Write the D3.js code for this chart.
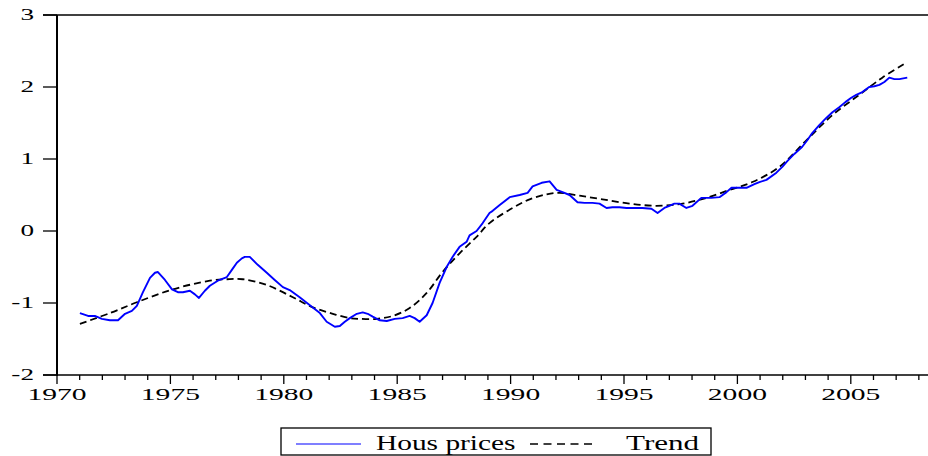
<!DOCTYPE html>
<html>
<head>
<meta charset="utf-8">
<script src="https://cdn.jsdelivr.net/npm/d3@7"></script>
<style>
  body { margin: 0; background: #fff; }
  svg { display: block; }
  text { font-family: "Liberation Serif", "DejaVu Serif", serif; fill: #000; }
</style>
</head>
<body>
<div id="chart"></div>
<script>
// Hous prices
const priceYears = [1971.01,1971.37,1971.67,1971.98,1972.33,1972.69,1973.00,1973.30,1973.52,1973.79,1974.10,1974.32,1974.45,1974.76,1975.07,1975.33,1975.55,1975.86,1976.08,1976.26,1976.52,1976.74,1977.09,1977.49,1977.71,1977.93,1978.15,1978.28,1978.50,1978.85,1979.25,1979.60,1979.96,1980.26,1980.70,1981.15,1981.59,1981.89,1982.25,1982.47,1982.69,1982.91,1983.22,1983.48,1983.70,1983.92,1984.23,1984.54,1984.89,1985.24,1985.55,1985.77,1985.99,1986.30,1986.56,1986.87,1987.18,1987.44,1987.75,1988.06,1988.19,1988.50,1988.77,1989.07,1989.21,1989.52,1989.96,1990.40,1990.75,1990.97,1991.37,1991.72,1992.03,1992.29,1992.60,1992.95,1993.26,1993.61,1993.92,1994.23,1994.49,1994.80,1995.11,1995.37,1995.81,1996.21,1996.48,1996.78,1997.00,1997.22,1997.44,1997.75,1998.02,1998.41,1998.85,1999.21,1999.52,1999.74,2000.09,2000.40,2000.75,2000.97,2001.28,2001.72,2001.98,2002.20,2002.51,2002.86,2003.08,2003.30,2003.61,2003.92,2004.19,2004.49,2004.76,2005.02,2005.24,2005.51,2005.81,2006.04,2006.26,2006.48,2006.70,2006.92,2007.14,2007.49];
const priceValues = [-1.14,-1.18,-1.18,-1.22,-1.24,-1.24,-1.15,-1.11,-1.04,-0.85,-0.65,-0.58,-0.57,-0.68,-0.81,-0.85,-0.85,-0.83,-0.88,-0.93,-0.83,-0.76,-0.69,-0.64,-0.54,-0.44,-0.38,-0.36,-0.36,-0.47,-0.58,-0.68,-0.78,-0.82,-0.92,-1.03,-1.14,-1.26,-1.33,-1.32,-1.26,-1.21,-1.15,-1.13,-1.15,-1.19,-1.24,-1.25,-1.22,-1.21,-1.18,-1.21,-1.26,-1.17,-1.00,-0.72,-0.50,-0.36,-0.22,-0.15,-0.06,0.00,0.11,0.25,0.28,0.36,0.47,0.50,0.53,0.62,0.67,0.69,0.57,0.54,0.50,0.40,0.39,0.39,0.38,0.32,0.33,0.33,0.32,0.32,0.32,0.31,0.25,0.32,0.35,0.38,0.38,0.32,0.35,0.46,0.46,0.47,0.54,0.60,0.60,0.60,0.65,0.68,0.71,0.81,0.89,0.97,1.07,1.17,1.26,1.36,1.47,1.57,1.65,1.72,1.79,1.85,1.89,1.93,2.00,2.01,2.03,2.07,2.13,2.11,2.11,2.13];

// Trend
const trendYears = [1971.01,1972.33,1973.52,1975.11,1976.74,1977.49,1978.19,1979.25,1980.40,1981.28,1982.16,1982.91,1983.35,1984.10,1984.80,1985.55,1986.30,1987.00,1987.75,1988.50,1989.07,1990.09,1990.84,1991.59,1992.16,1993.04,1994.05,1995.24,1996.43,1997.58,1998.63,1999.65,2000.66,2001.85,2003.04,2004.19,2005.37,2006.39,2007.36];
const trendValues = [-1.29,-1.14,-0.99,-0.81,-0.69,-0.67,-0.67,-0.75,-0.92,-1.06,-1.15,-1.21,-1.22,-1.22,-1.18,-1.07,-0.86,-0.57,-0.31,-0.08,0.11,0.32,0.44,0.51,0.53,0.49,0.44,0.38,0.35,0.38,0.46,0.57,0.68,0.89,1.26,1.61,1.89,2.13,2.32];

const yTicks = [3, 2, 1, 0, -1, -2];
const yTickLabels = ["3", "2", "1", "0", "-1", "-2"];
const xMajorTicks = [1970, 1975, 1980, 1985, 1990, 1995, 2000, 2005];
const seriesNames = ["Hous prices", "Trend"];

const width = 928, height = 456;
const plotLeft = 57, plotTop = 15, plotBottom = 375, plotRight = 928;

const x = d3.scaleLinear()
  .domain([1970, 1970 + (plotRight - plotLeft) / 22.68])
  .range([plotLeft, plotRight]);
const y = d3.scaleLinear().domain([-2, 3]).range([plotBottom, plotTop]);

const svg = d3.select("#chart").append("svg")
  .attr("width", width)
  .attr("height", height);

svg.append("clipPath").attr("id", "plot")
  .append("rect")
  .attr("x", plotLeft).attr("y", plotTop - 2)
  .attr("width", plotRight - plotLeft).attr("height", plotBottom - plotTop + 4);

// Lines
const priceData = priceYears.map((yr, i) => [yr, priceValues[i]]);
const trendData = trendYears.map((yr, i) => [yr, trendValues[i]]);

const plot = svg.append("g").attr("clip-path", "url(#plot)");

plot.append("path")
  .datum(trendData)
  .attr("d", d3.line().x(d => x(d[0])).y(d => y(d[1])).curve(d3.curveCatmullRom))
  .attr("fill", "none")
  .attr("stroke", "#000")
  .attr("stroke-width", 1.8)
  .attr("stroke-dasharray", "7,4");

plot.append("path")
  .datum(priceData)
  .attr("d", d3.line().x(d => x(d[0])).y(d => y(d[1])))
  .attr("fill", "none")
  .attr("stroke", "#0000ff")
  .attr("stroke-width", 1.9)
  .attr("stroke-linejoin", "round");

// Frame: top border, left axis, bottom axis
svg.append("line")
  .attr("x1", 43).attr("x2", plotRight)
  .attr("y1", plotTop).attr("y2", plotTop)
  .attr("stroke", "#000").attr("stroke-width", 1.3);

svg.append("line")
  .attr("x1", plotLeft).attr("x2", plotLeft)
  .attr("y1", plotTop).attr("y2", plotBottom + 1)
  .attr("stroke", "#000").attr("stroke-width", 2);

svg.append("line")
  .attr("x1", 43).attr("x2", plotRight)
  .attr("y1", plotBottom).attr("y2", plotBottom)
  .attr("stroke", "#000").attr("stroke-width", 1.5);

// Y ticks and labels
yTicks.forEach((v, i) => {
  svg.append("line")
    .attr("x1", 43).attr("x2", plotLeft)
    .attr("y1", y(v)).attr("y2", y(v))
    .attr("stroke", "#000").attr("stroke-width", 1.3);
  svg.append("text")
    .attr("transform", `translate(34,${y(v) + 5}) scale(1.7,1)`)
    .attr("text-anchor", "end")
    .attr("font-size", 16)
    .text(yTickLabels[i]);
});

// X ticks (minor every year) and labels
d3.range(1970, 2009).forEach(yr => {
  const major = yr % 5 === 0;
  svg.append("line")
    .attr("x1", x(yr)).attr("x2", x(yr))
    .attr("y1", plotBottom).attr("y2", plotBottom + (major ? 9 : 5))
    .attr("stroke", "#000").attr("stroke-width", 1.3);
});

xMajorTicks.forEach(yr => {
  svg.append("text")
    .attr("transform", `translate(${x(yr)},400) scale(1.85,1)`)
    .attr("text-anchor", "middle")
    .attr("font-size", 16)
    .text(yr);
});

// Legend
const legend = svg.append("g");
legend.append("rect")
  .attr("x", 281).attr("y", 428)
  .attr("width", 430).attr("height", 27)
  .attr("fill", "#fff")
  .attr("stroke", "#000").attr("stroke-width", 1.3);

legend.append("line")
  .attr("x1", 296).attr("x2", 361)
  .attr("y1", 444).attr("y2", 444)
  .attr("stroke", "#0000ff").attr("stroke-width", 1.2);

legend.append("text")
  .attr("transform", "translate(376,450) scale(1.4,1)")
  .attr("font-size", 21)
  .text(seriesNames[0]);

legend.append("line")
  .attr("x1", 530).attr("x2", 592)
  .attr("y1", 444).attr("y2", 444)
  .attr("stroke", "#000").attr("stroke-width", 1.3)
  .attr("stroke-dasharray", "8,5.5");

legend.append("text")
  .attr("transform", "translate(626,450) scale(1.48,1)")
  .attr("font-size", 21)
  .text(seriesNames[1]);
</script>
</body>
</html>
